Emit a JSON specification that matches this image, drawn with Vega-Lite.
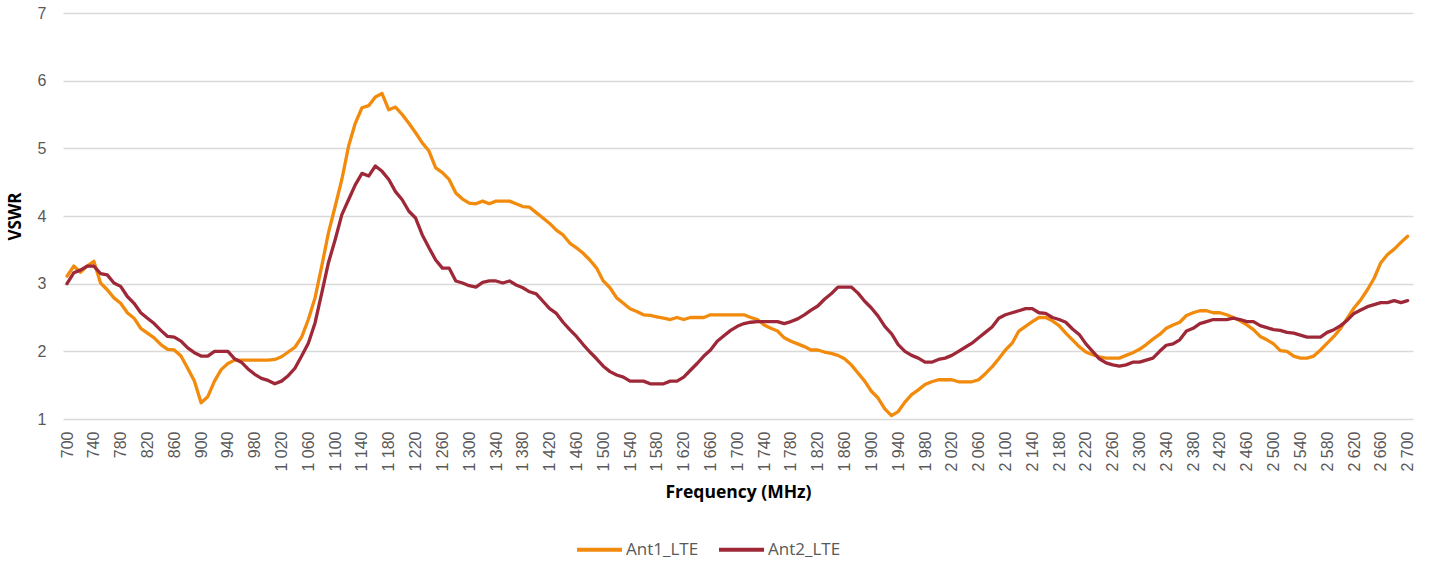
{
  "$schema": "https://vega.github.io/schema/vega-lite/v6.json",
  "width": 1350,
  "height": 406,
  "autosize": {"type": "none"},
  "padding": {"left": 63, "top": 13, "right": 22, "bottom": 144},
  "background": "white",
  "config": {"view": {"stroke": null}, "font": "Liberation Sans"},
  "data": {"values": [
{"f":700,"Ant1_LTE":3.11,"Ant2_LTE":3.00},{"f":710,"Ant1_LTE":3.26,"Ant2_LTE":3.16},{"f":720,"Ant1_LTE":3.17,"Ant2_LTE":3.20},{"f":730,"Ant1_LTE":3.26,"Ant2_LTE":3.26},{"f":740,"Ant1_LTE":3.33,"Ant2_LTE":3.26},{"f":750,"Ant1_LTE":3.01,"Ant2_LTE":3.15},{"f":760,"Ant1_LTE":2.91,"Ant2_LTE":3.13},{"f":770,"Ant1_LTE":2.79,"Ant2_LTE":3.01},{"f":780,"Ant1_LTE":2.71,"Ant2_LTE":2.96},{"f":790,"Ant1_LTE":2.57,"Ant2_LTE":2.81},
{"f":800,"Ant1_LTE":2.49,"Ant2_LTE":2.71},{"f":810,"Ant1_LTE":2.34,"Ant2_LTE":2.57},{"f":820,"Ant1_LTE":2.27,"Ant2_LTE":2.49},{"f":830,"Ant1_LTE":2.20,"Ant2_LTE":2.41},{"f":840,"Ant1_LTE":2.10,"Ant2_LTE":2.31},{"f":850,"Ant1_LTE":2.03,"Ant2_LTE":2.22},{"f":860,"Ant1_LTE":2.02,"Ant2_LTE":2.21},{"f":870,"Ant1_LTE":1.93,"Ant2_LTE":2.15},{"f":880,"Ant1_LTE":1.75,"Ant2_LTE":2.05},{"f":890,"Ant1_LTE":1.56,"Ant2_LTE":1.98},
{"f":900,"Ant1_LTE":1.24,"Ant2_LTE":1.93},{"f":910,"Ant1_LTE":1.33,"Ant2_LTE":1.93},{"f":920,"Ant1_LTE":1.56,"Ant2_LTE":2.00},{"f":930,"Ant1_LTE":1.73,"Ant2_LTE":2.00},{"f":940,"Ant1_LTE":1.82,"Ant2_LTE":2.00},{"f":950,"Ant1_LTE":1.87,"Ant2_LTE":1.89},{"f":960,"Ant1_LTE":1.87,"Ant2_LTE":1.84},{"f":970,"Ant1_LTE":1.87,"Ant2_LTE":1.74},{"f":980,"Ant1_LTE":1.87,"Ant2_LTE":1.66},{"f":990,"Ant1_LTE":1.87,"Ant2_LTE":1.60},
{"f":1000,"Ant1_LTE":1.87,"Ant2_LTE":1.57},{"f":1010,"Ant1_LTE":1.88,"Ant2_LTE":1.52},{"f":1020,"Ant1_LTE":1.92,"Ant2_LTE":1.56},{"f":1030,"Ant1_LTE":1.99,"Ant2_LTE":1.64},{"f":1040,"Ant1_LTE":2.06,"Ant2_LTE":1.75},{"f":1050,"Ant1_LTE":2.21,"Ant2_LTE":1.93},{"f":1060,"Ant1_LTE":2.47,"Ant2_LTE":2.12},{"f":1070,"Ant1_LTE":2.79,"Ant2_LTE":2.42},{"f":1080,"Ant1_LTE":3.26,"Ant2_LTE":2.86},{"f":1090,"Ant1_LTE":3.75,"Ant2_LTE":3.31},
{"f":1100,"Ant1_LTE":4.14,"Ant2_LTE":3.65},{"f":1110,"Ant1_LTE":4.54,"Ant2_LTE":4.02},{"f":1120,"Ant1_LTE":5.03,"Ant2_LTE":4.24},{"f":1130,"Ant1_LTE":5.37,"Ant2_LTE":4.46},{"f":1140,"Ant1_LTE":5.60,"Ant2_LTE":4.63},{"f":1150,"Ant1_LTE":5.63,"Ant2_LTE":4.59},{"f":1160,"Ant1_LTE":5.76,"Ant2_LTE":4.74},{"f":1170,"Ant1_LTE":5.81,"Ant2_LTE":4.66},{"f":1180,"Ant1_LTE":5.57,"Ant2_LTE":4.54},{"f":1190,"Ant1_LTE":5.61,"Ant2_LTE":4.36},
{"f":1200,"Ant1_LTE":5.50,"Ant2_LTE":4.24},{"f":1210,"Ant1_LTE":5.37,"Ant2_LTE":4.07},{"f":1220,"Ant1_LTE":5.23,"Ant2_LTE":3.97},{"f":1230,"Ant1_LTE":5.08,"Ant2_LTE":3.72},{"f":1240,"Ant1_LTE":4.96,"Ant2_LTE":3.53},{"f":1250,"Ant1_LTE":4.71,"Ant2_LTE":3.35},{"f":1260,"Ant1_LTE":4.64,"Ant2_LTE":3.23},{"f":1270,"Ant1_LTE":4.54,"Ant2_LTE":3.23},{"f":1280,"Ant1_LTE":4.34,"Ant2_LTE":3.04},{"f":1290,"Ant1_LTE":4.25,"Ant2_LTE":3.01},
{"f":1300,"Ant1_LTE":4.19,"Ant2_LTE":2.97},{"f":1310,"Ant1_LTE":4.18,"Ant2_LTE":2.95},{"f":1320,"Ant1_LTE":4.22,"Ant2_LTE":3.02},{"f":1330,"Ant1_LTE":4.18,"Ant2_LTE":3.04},{"f":1340,"Ant1_LTE":4.22,"Ant2_LTE":3.04},{"f":1350,"Ant1_LTE":4.22,"Ant2_LTE":3.01},{"f":1360,"Ant1_LTE":4.22,"Ant2_LTE":3.04},{"f":1370,"Ant1_LTE":4.18,"Ant2_LTE":2.98},{"f":1380,"Ant1_LTE":4.14,"Ant2_LTE":2.94},{"f":1390,"Ant1_LTE":4.13,"Ant2_LTE":2.88},
{"f":1400,"Ant1_LTE":4.05,"Ant2_LTE":2.85},{"f":1410,"Ant1_LTE":3.97,"Ant2_LTE":2.74},{"f":1420,"Ant1_LTE":3.89,"Ant2_LTE":2.63},{"f":1430,"Ant1_LTE":3.79,"Ant2_LTE":2.56},{"f":1440,"Ant1_LTE":3.72,"Ant2_LTE":2.43},{"f":1450,"Ant1_LTE":3.60,"Ant2_LTE":2.32},{"f":1460,"Ant1_LTE":3.53,"Ant2_LTE":2.22},{"f":1470,"Ant1_LTE":3.45,"Ant2_LTE":2.10},{"f":1480,"Ant1_LTE":3.35,"Ant2_LTE":1.99},{"f":1490,"Ant1_LTE":3.23,"Ant2_LTE":1.89},
{"f":1500,"Ant1_LTE":3.04,"Ant2_LTE":1.78},{"f":1510,"Ant1_LTE":2.94,"Ant2_LTE":1.70},{"f":1520,"Ant1_LTE":2.79,"Ant2_LTE":1.65},{"f":1530,"Ant1_LTE":2.71,"Ant2_LTE":1.62},{"f":1540,"Ant1_LTE":2.63,"Ant2_LTE":1.56},{"f":1550,"Ant1_LTE":2.59,"Ant2_LTE":1.56},{"f":1560,"Ant1_LTE":2.54,"Ant2_LTE":1.56},{"f":1570,"Ant1_LTE":2.53,"Ant2_LTE":1.52},{"f":1580,"Ant1_LTE":2.51,"Ant2_LTE":1.52},{"f":1590,"Ant1_LTE":2.49,"Ant2_LTE":1.52},
{"f":1600,"Ant1_LTE":2.47,"Ant2_LTE":1.56},{"f":1610,"Ant1_LTE":2.50,"Ant2_LTE":1.56},{"f":1620,"Ant1_LTE":2.47,"Ant2_LTE":1.62},{"f":1630,"Ant1_LTE":2.50,"Ant2_LTE":1.72},{"f":1640,"Ant1_LTE":2.50,"Ant2_LTE":1.82},{"f":1650,"Ant1_LTE":2.50,"Ant2_LTE":1.93},{"f":1660,"Ant1_LTE":2.54,"Ant2_LTE":2.02},{"f":1670,"Ant1_LTE":2.54,"Ant2_LTE":2.15},{"f":1680,"Ant1_LTE":2.54,"Ant2_LTE":2.23},{"f":1690,"Ant1_LTE":2.54,"Ant2_LTE":2.31},
{"f":1700,"Ant1_LTE":2.54,"Ant2_LTE":2.37},{"f":1710,"Ant1_LTE":2.54,"Ant2_LTE":2.41},{"f":1720,"Ant1_LTE":2.50,"Ant2_LTE":2.43},{"f":1730,"Ant1_LTE":2.47,"Ant2_LTE":2.44},{"f":1740,"Ant1_LTE":2.39,"Ant2_LTE":2.44},{"f":1750,"Ant1_LTE":2.34,"Ant2_LTE":2.44},{"f":1760,"Ant1_LTE":2.30,"Ant2_LTE":2.44},{"f":1770,"Ant1_LTE":2.20,"Ant2_LTE":2.41},{"f":1780,"Ant1_LTE":2.15,"Ant2_LTE":2.44},{"f":1790,"Ant1_LTE":2.11,"Ant2_LTE":2.48},
{"f":1800,"Ant1_LTE":2.07,"Ant2_LTE":2.54},{"f":1810,"Ant1_LTE":2.02,"Ant2_LTE":2.61},{"f":1820,"Ant1_LTE":2.02,"Ant2_LTE":2.67},{"f":1830,"Ant1_LTE":1.99,"Ant2_LTE":2.77},{"f":1840,"Ant1_LTE":1.97,"Ant2_LTE":2.85},{"f":1850,"Ant1_LTE":1.94,"Ant2_LTE":2.95},{"f":1860,"Ant1_LTE":1.89,"Ant2_LTE":2.95},{"f":1870,"Ant1_LTE":1.80,"Ant2_LTE":2.95},{"f":1880,"Ant1_LTE":1.68,"Ant2_LTE":2.86},{"f":1890,"Ant1_LTE":1.56,"Ant2_LTE":2.74},
{"f":1900,"Ant1_LTE":1.41,"Ant2_LTE":2.64},{"f":1910,"Ant1_LTE":1.31,"Ant2_LTE":2.52},{"f":1920,"Ant1_LTE":1.15,"Ant2_LTE":2.37},{"f":1930,"Ant1_LTE":1.05,"Ant2_LTE":2.26},{"f":1940,"Ant1_LTE":1.11,"Ant2_LTE":2.10},{"f":1950,"Ant1_LTE":1.25,"Ant2_LTE":2.00},{"f":1960,"Ant1_LTE":1.36,"Ant2_LTE":1.94},{"f":1970,"Ant1_LTE":1.43,"Ant2_LTE":1.90},{"f":1980,"Ant1_LTE":1.51,"Ant2_LTE":1.84},{"f":1990,"Ant1_LTE":1.55,"Ant2_LTE":1.84},
{"f":2000,"Ant1_LTE":1.58,"Ant2_LTE":1.88},{"f":2010,"Ant1_LTE":1.58,"Ant2_LTE":1.90},{"f":2020,"Ant1_LTE":1.58,"Ant2_LTE":1.94},{"f":2030,"Ant1_LTE":1.55,"Ant2_LTE":2.00},{"f":2040,"Ant1_LTE":1.55,"Ant2_LTE":2.06},{"f":2050,"Ant1_LTE":1.55,"Ant2_LTE":2.12},{"f":2060,"Ant1_LTE":1.58,"Ant2_LTE":2.20},{"f":2070,"Ant1_LTE":1.67,"Ant2_LTE":2.28},{"f":2080,"Ant1_LTE":1.77,"Ant2_LTE":2.36},{"f":2090,"Ant1_LTE":1.89,"Ant2_LTE":2.49},
{"f":2100,"Ant1_LTE":2.02,"Ant2_LTE":2.54},{"f":2110,"Ant1_LTE":2.12,"Ant2_LTE":2.57},{"f":2120,"Ant1_LTE":2.30,"Ant2_LTE":2.60},{"f":2130,"Ant1_LTE":2.37,"Ant2_LTE":2.63},{"f":2140,"Ant1_LTE":2.44,"Ant2_LTE":2.63},{"f":2150,"Ant1_LTE":2.50,"Ant2_LTE":2.57},{"f":2160,"Ant1_LTE":2.50,"Ant2_LTE":2.56},{"f":2170,"Ant1_LTE":2.45,"Ant2_LTE":2.50},{"f":2180,"Ant1_LTE":2.38,"Ant2_LTE":2.47},{"f":2190,"Ant1_LTE":2.27,"Ant2_LTE":2.43},
{"f":2200,"Ant1_LTE":2.17,"Ant2_LTE":2.33},{"f":2210,"Ant1_LTE":2.07,"Ant2_LTE":2.25},{"f":2220,"Ant1_LTE":1.99,"Ant2_LTE":2.11},{"f":2230,"Ant1_LTE":1.95,"Ant2_LTE":2.00},{"f":2240,"Ant1_LTE":1.92,"Ant2_LTE":1.89},{"f":2250,"Ant1_LTE":1.90,"Ant2_LTE":1.83},{"f":2260,"Ant1_LTE":1.90,"Ant2_LTE":1.80},{"f":2270,"Ant1_LTE":1.90,"Ant2_LTE":1.78},{"f":2280,"Ant1_LTE":1.94,"Ant2_LTE":1.80},{"f":2290,"Ant1_LTE":1.98,"Ant2_LTE":1.84},
{"f":2300,"Ant1_LTE":2.03,"Ant2_LTE":1.84},{"f":2310,"Ant1_LTE":2.10,"Ant2_LTE":1.87},{"f":2320,"Ant1_LTE":2.18,"Ant2_LTE":1.90},{"f":2330,"Ant1_LTE":2.25,"Ant2_LTE":2.00},{"f":2340,"Ant1_LTE":2.34,"Ant2_LTE":2.09},{"f":2350,"Ant1_LTE":2.39,"Ant2_LTE":2.11},{"f":2360,"Ant1_LTE":2.43,"Ant2_LTE":2.17},{"f":2370,"Ant1_LTE":2.53,"Ant2_LTE":2.30},{"f":2380,"Ant1_LTE":2.57,"Ant2_LTE":2.34},{"f":2390,"Ant1_LTE":2.60,"Ant2_LTE":2.41},
{"f":2400,"Ant1_LTE":2.60,"Ant2_LTE":2.44},{"f":2410,"Ant1_LTE":2.57,"Ant2_LTE":2.47},{"f":2420,"Ant1_LTE":2.57,"Ant2_LTE":2.47},{"f":2430,"Ant1_LTE":2.54,"Ant2_LTE":2.47},{"f":2440,"Ant1_LTE":2.50,"Ant2_LTE":2.49},{"f":2450,"Ant1_LTE":2.45,"Ant2_LTE":2.47},{"f":2460,"Ant1_LTE":2.39,"Ant2_LTE":2.44},{"f":2470,"Ant1_LTE":2.32,"Ant2_LTE":2.44},{"f":2480,"Ant1_LTE":2.22,"Ant2_LTE":2.38},{"f":2490,"Ant1_LTE":2.17,"Ant2_LTE":2.35},
{"f":2500,"Ant1_LTE":2.11,"Ant2_LTE":2.32},{"f":2510,"Ant1_LTE":2.01,"Ant2_LTE":2.31},{"f":2520,"Ant1_LTE":2.00,"Ant2_LTE":2.28},{"f":2530,"Ant1_LTE":1.93,"Ant2_LTE":2.27},{"f":2540,"Ant1_LTE":1.90,"Ant2_LTE":2.24},{"f":2550,"Ant1_LTE":1.90,"Ant2_LTE":2.21},{"f":2560,"Ant1_LTE":1.93,"Ant2_LTE":2.21},{"f":2570,"Ant1_LTE":2.02,"Ant2_LTE":2.21},{"f":2580,"Ant1_LTE":2.12,"Ant2_LTE":2.28},{"f":2590,"Ant1_LTE":2.22,"Ant2_LTE":2.32},
{"f":2600,"Ant1_LTE":2.34,"Ant2_LTE":2.38},{"f":2610,"Ant1_LTE":2.49,"Ant2_LTE":2.46},{"f":2620,"Ant1_LTE":2.64,"Ant2_LTE":2.56},{"f":2630,"Ant1_LTE":2.76,"Ant2_LTE":2.61},{"f":2640,"Ant1_LTE":2.91,"Ant2_LTE":2.66},{"f":2650,"Ant1_LTE":3.08,"Ant2_LTE":2.69},{"f":2660,"Ant1_LTE":3.31,"Ant2_LTE":2.72},{"f":2670,"Ant1_LTE":3.43,"Ant2_LTE":2.72},{"f":2680,"Ant1_LTE":3.51,"Ant2_LTE":2.75},{"f":2690,"Ant1_LTE":3.61,"Ant2_LTE":2.72},
{"f":2700,"Ant1_LTE":3.70,"Ant2_LTE":2.75}
  ]},
  "transform": [{"fold": ["Ant1_LTE", "Ant2_LTE"], "as": ["series", "vswr"]}],
  "mark": {"type": "line", "strokeWidth": 3.3, "strokeJoin": "round", "strokeCap": "round"},
  "encoding": {
    "x": {
      "field": "f", "type": "quantitative",
      "scale": {"domain": [694, 2708], "nice": false, "zero": false},
      "axis": {
        "title": "Frequency (MHz)",
        "titleFont": "Open Sans", "titleFontSize": 17.5, "titleFontWeight": "bold", "titleColor": "#000000",
        "titlePadding": 12,
        "values": [700,740,780,820,860,900,940,980,1020,1060,1100,1140,1180,1220,1260,1300,1340,1380,1420,1460,1500,1540,1580,1620,1660,1700,1740,1780,1820,1860,1900,1940,1980,2020,2060,2100,2140,2180,2220,2260,2300,2340,2380,2420,2460,2500,2540,2580,2620,2660,2700],
        "labelExpr": "datum.value >= 1000 ? floor(datum.value / 1000) + ' ' + format(datum.value % 1000, '03d') : '' + datum.value",
        "labelAngle": -90,
        "labelFont": "Liberation Sans", "labelFontSize": 16, "labelColor": "#595959",
        "labelPadding": 12, "labelOverlap": false, "labelBound": false, "labelFlush": false,
        "grid": false, "ticks": false, "domain": false
      }
    },
    "y": {
      "field": "vswr", "type": "quantitative",
      "scale": {"domain": [1, 7], "nice": false, "zero": false},
      "axis": {
        "title": "VSWR",
        "titleFont": "Open Sans", "titleFontSize": 17, "titleFontWeight": "bold", "titleColor": "#000000",
        "titlePadding": 13,
        "values": [1,2,3,4,5,6,7], "format": "d",
        "labelFont": "Liberation Sans", "labelFontSize": 16, "labelColor": "#595959", "labelPadding": 17,
        "grid": true, "gridColor": "#d9d9d9", "gridWidth": 1.5,
        "ticks": false, "domain": false
      }
    },
    "color": {
      "field": "series", "type": "nominal",
      "scale": {"domain": ["Ant1_LTE", "Ant2_LTE"], "range": ["#f28a0c", "#9e2838"]},
      "legend": {
        "title": null, "orient": "none", "direction": "horizontal",
        "legendX": 512, "legendY": 512, "padding": 0,
        "symbolType": "stroke", "symbolSize": 2025, "symbolStrokeWidth": 4,
        "labelFont": "Open Sans", "labelFontSize": 17, "labelColor": "#595959",
        "labelOffset": 2, "columnPadding": 12
      }
    }
  }
}
